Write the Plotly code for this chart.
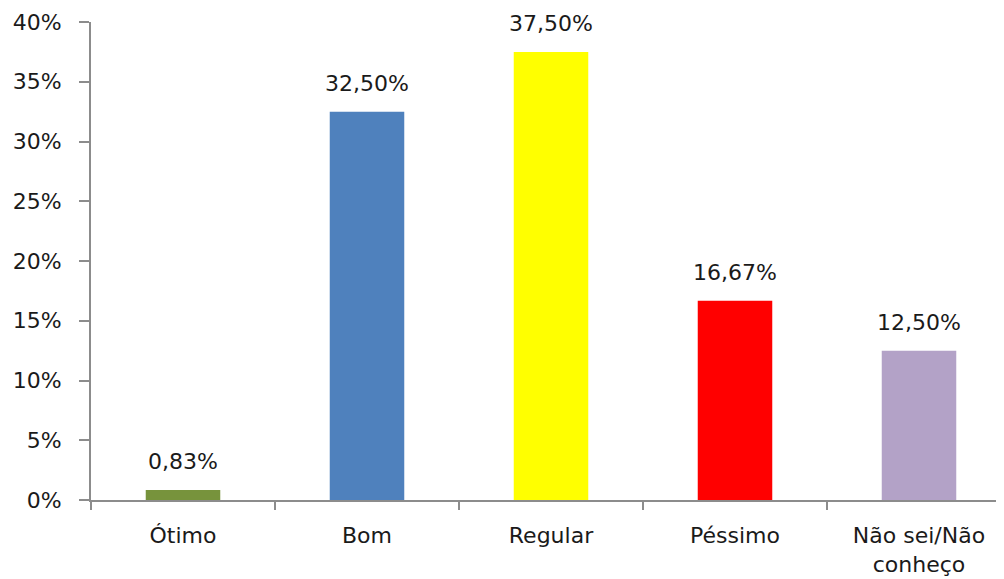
import plotly.graph_objects as go

categorias = ["Ótimo", "Bom", "Regular", "Péssimo", "Não sei/Não<br>conheço"]
valores = [0.83, 32.50, 37.50, 16.67, 12.50]
cores = ["#77933C", "#4F81BD", "#FFFF00", "#FF0000", "#B3A2C7"]
ticks_y = [0, 5, 10, 15, 20, 25, 30, 35, 40]

fonte = dict(family="DejaVu Sans", size=22, color="#1a1a1a")
eixo = "#8c8c8c"

fig = go.Figure()
fig.add_trace(go.Bar(
    x=categorias,
    y=valores,
    marker=dict(color=cores, line=dict(width=0)),
    width=0.405,
    showlegend=False,
))

# rótulos de dados acima das barras
for c, v in zip(categorias, valores):
    fig.add_annotation(
        x=c, y=v,
        text=f"{v:.2f}%".replace(".", ","),
        showarrow=False,
        yanchor="bottom",
        yshift=14,
        font=fonte,
    )

# a página tem 8px de margem no body; a área do gráfico passa um pouco da borda direita
fig.update_layout(
    width=1004,
    height=571,
    margin=dict(l=83, r=1, t=14, b=79),
    plot_bgcolor="white",
    paper_bgcolor="white",
    font=fonte,
    bargap=0.6,
)

fig.update_xaxes(
    range=[-0.5, 4.5],
    automargin=False,
    showline=True,
    linecolor=eixo,
    linewidth=2,
    ticks="outside",
    tickson="boundaries",
    ticklen=8,
    tickwidth=2,
    tickcolor=eixo,
    showgrid=False,
    tickfont=fonte,
    ticklabelstandoff=15,
)

fig.update_yaxes(
    range=[0, 40],
    automargin=False,
    tickvals=ticks_y,
    ticktext=[f"{t}%" for t in ticks_y],
    showline=True,
    linecolor=eixo,
    linewidth=2,
    ticks="outside",
    ticklen=10,
    tickwidth=2,
    tickcolor=eixo,
    showgrid=False,
    zeroline=False,
    tickfont=fonte,
    ticklabelstandoff=13,
)

fig.write_html("out.html")
